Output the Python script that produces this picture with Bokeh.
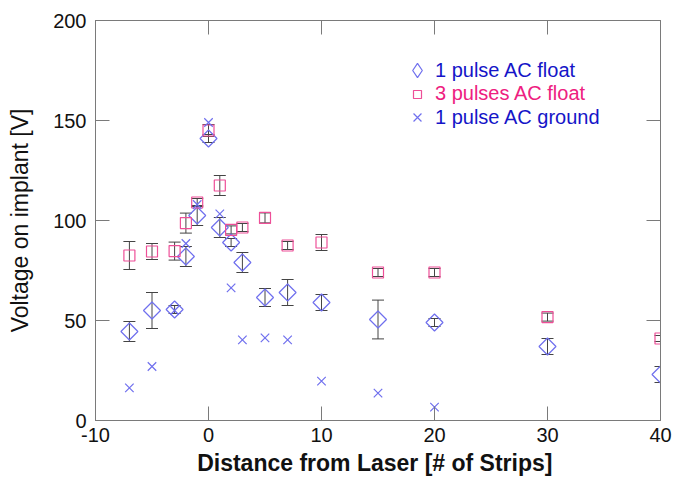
import math
from bokeh.plotting import figure
from bokeh.models import (ColumnDataSource, Whisker, TeeHead, LinearAxis, Range1d,
                          FixedTicker, Legend, LegendItem)
from bokeh.embed import file_html
from bokeh.resources import INLINE

# ---- data ----
x_all = [-7, -5, -3, -2, -1, 0, 1, 2, 3, 5, 7, 10, 15, 20, 30, 40]
pulse1_float = [44.5, 55, 55.5, 82, 102.5, 141, 96.5, 89, 79, 61.5, 64, 59, 50.5, 49, 37, 23]
pulse1_float_err = [5, 9, 2, 5, 5, 2, 5, 2, 5, 4.5, 6.5, 4, 9.7, 2, 4, 4]
pulse3_float = [82.5, 84.5, 84.7, 98.7, 109, 145, 117.5, 95.3, 96.5, 101.3, 87.5, 89, 74, 74, 51.7, 41]
pulse3_float_err = [7, 4, 4.5, 5, 2, 3, 5, 2, 2, 2.5, 2, 4, 2, 2, 2, 1.5]
x_ground = [-7, -5, -3, -2, -1, 0, 1, 2, 3, 5, 7, 10, 15, 20]
pulse1_ground = [16.3, 27, 55, 88.5, 108, 149, 103.3, 66.3, 40.3, 41.3, 40.3, 19.7, 13.7, 6.7]

x_ticks = [-10, 0, 10, 20, 30, 40]
x_tick_labels = ["-10", "0", "10", "20", "30", "40"]
y_ticks = [0, 50, 100, 150, 200]
labels = ["1 pulse AC float", "3 pulses AC float", "1 pulse AC ground"]

FONT = "Liberation Sans"
BLUE_M = "#6f6fee"
PINK_M = "#ee4f98"
BLUE_T = "#1515c8"
PINK_T = "#ee2080"
GRAY = "#7a7a7a"

p = figure(width=675, height=480, output_backend="svg", toolbar_location=None,
           x_range=Range1d(-10, 40), y_range=Range1d(0, 200),
           min_border_left=95, min_border_right=15, min_border_top=20, min_border_bottom=60)
p.frame_width = 565
p.frame_height = 400
p.grid.visible = False
p.outline_line_color = GRAY
p.background_fill_color = "white"
p.border_fill_color = "white"

for ax in p.xaxis + p.yaxis:
    ax.axis_line_color = GRAY
    ax.major_tick_line_color = GRAY
    ax.major_tick_in = 14
    ax.major_tick_out = 0
    ax.minor_tick_line_color = None
    ax.major_label_text_font = FONT
    ax.major_label_text_font_size = "20px"
    ax.major_label_text_color = "#111111"
    ax.axis_label_text_font = FONT
    ax.axis_label_text_color = "#111111"
p.xaxis.ticker = FixedTicker(ticks=x_ticks)
p.xaxis.major_label_overrides = dict(zip(x_ticks, x_tick_labels))
p.yaxis.ticker = FixedTicker(ticks=y_ticks)
p.xaxis.axis_label = "Distance from Laser  [# of Strips]"
p.xaxis.axis_label_text_font_style = "bold"
p.xaxis.axis_label_text_font_size = "23px"
p.xaxis.major_label_standoff = 7
p.xaxis.axis_label_standoff = 5
p.yaxis.axis_label = "Voltage on implant [V]"
p.yaxis.axis_label_text_font_style = "normal"
p.yaxis.axis_label_text_font_size = "23px"
p.yaxis.major_label_standoff = 9
p.yaxis.axis_label_standoff = 17

top = LinearAxis(ticker=FixedTicker(ticks=x_ticks),
                 major_label_overrides={t: "" for t in x_ticks},
                 axis_line_color=GRAY, major_tick_line_color=GRAY, major_tick_in=14,
                 major_tick_out=0, minor_tick_line_color=None)
right = LinearAxis(ticker=FixedTicker(ticks=y_ticks),
                   major_label_overrides={t: "" for t in y_ticks},
                   axis_line_color=GRAY, major_tick_line_color=GRAY, major_tick_in=14,
                   major_tick_out=0, minor_tick_line_color=None)
p.add_layout(top, "above")
p.add_layout(right, "right")

s1 = ColumnDataSource(dict(x=x_all, y=pulse1_float,
                           lo=[v - e for v, e in zip(pulse1_float, pulse1_float_err)],
                           hi=[v + e for v, e in zip(pulse1_float, pulse1_float_err)]))
s3 = ColumnDataSource(dict(x=x_all, y=pulse3_float,
                           lo=[v - e for v, e in zip(pulse3_float, pulse3_float_err)],
                           hi=[v + e for v, e in zip(pulse3_float, pulse3_float_err)]))
sg = ColumnDataSource(dict(x=x_ground, y=pulse1_ground))

for src in (s1, s3):
    w = Whisker(source=src, base="x", upper="hi", lower="lo", line_color="#444444", line_width=1,
                upper_head=TeeHead(size=12, line_color="#444444", line_width=1),
                lower_head=TeeHead(size=12, line_color="#444444", line_width=1))
    p.add_layout(w)

r1 = p.scatter("x", "y", source=s1, marker="square", size=12, angle=math.pi / 4,
               fill_color=None, line_color=BLUE_M, line_width=1.2)
r3 = p.scatter("x", "y", source=s3, marker="square", size=11, fill_color=None,
               line_color=PINK_M, line_width=1.2)
rg = p.scatter("x", "y", source=sg, marker="x", size=12, line_color=BLUE_M, line_width=1.2)

# hidden legend-only renderer so the legend shows a diamond glyph
r1_leg = p.scatter("x", "y", source=s1, marker="diamond", size=12, fill_color=None,
                   line_color=BLUE_M, line_width=1.2, visible=False)

legend_specs = [
    (r1_leg, labels[0], BLUE_T, 36, 0, (304, 332)),
    (r3, labels[1], PINK_T, 20, 8, (312, 315)),
    (rg, labels[2], BLUE_T, 28, 4, (308, 289)),
]
for r, lab, col, gsize, standoff, loc in legend_specs:
    lg = Legend(items=[LegendItem(label=lab, renderers=[r])], location=loc,
                label_text_color=col, label_text_font=FONT, label_text_font_size="20px",
                border_line_color=None, background_fill_alpha=0, padding=0, margin=0,
                glyph_width=gsize, glyph_height=gsize, label_standoff=standoff, spacing=0)
    p.add_layout(lg, "center")

open("out.html", "w").write(file_html(p, INLINE))
